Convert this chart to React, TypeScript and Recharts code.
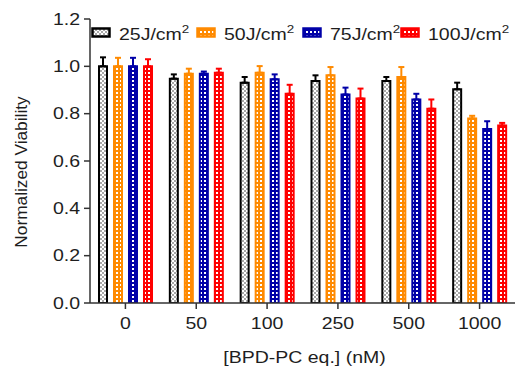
import React from 'react';
import { BarChart, Bar, XAxis, YAxis, ErrorBar, Legend } from 'recharts';

const categories = ['0', '50', '100', '250', '500', '1000'];
const seriesNames = ['25J/cm', '50J/cm', '75J/cm', '100J/cm'];
const v25 = [1.0, 0.948, 0.931, 0.938, 0.938, 0.903];
const v50 = [1.0, 0.969, 0.973, 0.962, 0.955, 0.78];
const v75 = [1.0, 0.969, 0.945, 0.881, 0.86, 0.735];
const v100 = [1.0, 0.973, 0.884, 0.864, 0.821, 0.75];
const e25 = [0.038, 0.018, 0.024, 0.024, 0.017, 0.028];
const e50 = [0.036, 0.021, 0.028, 0.035, 0.042, 0.011];
const e75 = [0.036, 0.009, 0.021, 0.029, 0.024, 0.033];
const e100 = [0.03, 0.017, 0.038, 0.042, 0.039, 0.011];
const yTicks = [0, 0.2, 0.4, 0.6, 0.8, 1.0, 1.2];

const colors = ['#000000', '#ff8a00', '#0000a8', '#ff0000'];
const patternBase = ['#a8a8a8', '#ff8a00', '#0000a8', '#ff0000'];
const patIds = ['pat0', 'pat1', 'pat2', 'pat3'];
const vals = [v25, v50, v75, v100];
const errs = [e25, e50, e75, e100];
const keys = ['s0', 's1', 's2', 's3'];

const data = categories.map((c, i) => {
  const row: any = { name: c };
  keys.forEach((k, s) => {
    row[k] = vals[s][i];
    row[k + 'e'] = [0, errs[s][i]];
  });
  return row;
});

const FONT = '"Liberation Sans", Arial, sans-serif';
const SX = 1.22;
const TXT = '#1e1e1e';

const YTick = (props: any) => {
  const { x, y, payload } = props;
  return (
    <g transform={`translate(${x},${y})`}>
      <text transform={`scale(${SX},1)`} textAnchor="end" dy="0.36em" fontSize={16} fontFamily={FONT} fill={TXT}>
        {Number(payload.value).toFixed(1)}
      </text>
    </g>
  );
};

const XTick = (props: any) => {
  const { x, y, payload } = props;
  return (
    <g transform={`translate(${x},${y})`}>
      <text transform={`scale(${SX},1)`} textAnchor="middle" dy={18} fontSize={16} fontFamily={FONT} fill={TXT}>
        {payload.value}
      </text>
    </g>
  );
};

const XLabel = (props: any) => {
  const { viewBox } = props;
  const cx = viewBox.x + viewBox.width / 2 + 2;
  return (
    <g transform={`translate(${cx},${viewBox.y + 60})`}>
      <text transform={`scale(${SX},1)`} textAnchor="middle" fontSize={16} fontFamily={FONT} fill={TXT}>
        [BPD-PC eq.] (nM)
      </text>
    </g>
  );
};

const YLabel = (props: any) => {
  const { viewBox } = props;
  const cy = viewBox.y + viewBox.height / 2 + 11;
  return (
    <g transform={`translate(27,${cy}) rotate(-90)`}>
      <text transform="scale(1.08,1)" textAnchor="middle" fontSize={16} fontFamily={FONT} fill={TXT}>
        Normalized Viability
      </text>
    </g>
  );
};

const itemWidths = [105, 106, 98, 118];

const LegendContent = () => (
  <div style={{ display: 'flex' }}>
    {seriesNames.map((n, i) => (
      <svg key={n} width={itemWidths[i]} height={22} style={{ display: 'block' }}>
        <rect x={1.5} y={5.5} width={17} height={8} fill={`url(#${patIds[i]})`} stroke={colors[i]} strokeWidth={2.5} />
        <g transform="translate(28,17)">
          <text transform={`scale(${SX},1)`} fontSize={16} fontFamily={FONT} fill={TXT}>
            {n}
            <tspan fontSize={11} dy={-7}>2</tspan>
          </text>
        </g>
      </svg>
    ))}
  </div>
);

export default function App() {
  return (
    <div style={{ position: 'absolute', left: 0, top: 0, background: '#fff' }}>
      <BarChart
        width={519}
        height={370}
        data={data}
        margin={{ top: 19, right: 4, bottom: 0, left: 0 }}
        barCategoryGap={8}
        barGap={7}
        barSize={8}
      >
        <defs>
          {patIds.map((id, i) => (
            <pattern key={id} id={id} patternUnits="userSpaceOnUse" width={4} height={4}>
              <rect x={0} y={0} width={4} height={4} fill={patternBase[i]} />
              <rect x={0} y={0} width={2} height={2} fill="#ffffff" />
              <rect x={2} y={2} width={2} height={2} fill={i === 0 ? '#ffffff' : patternBase[i]} />
            </pattern>
          ))}
        </defs>
        <XAxis
          dataKey="name"
          height={67}
          tickSize={6}
          tick={<XTick />}
          axisLine={{ stroke: '#333', strokeWidth: 1.5 }}
          tickLine={{ stroke: '#333', strokeWidth: 1.5 }}
          label={<XLabel />}
        />
        <XAxis xAxisId="top" orientation="top" dataKey="name" height={0} tick={false} tickLine={false} axisLine={{ stroke: '#444', strokeWidth: 1.5 }} />
        <YAxis
          domain={[0, 1.2]}
          ticks={yTicks}
          width={90}
          tickSize={6}
          tickMargin={4}
          tick={<YTick />}
          axisLine={{ stroke: '#333', strokeWidth: 1.5 }}
          tickLine={{ stroke: '#333', strokeWidth: 1.5 }}
          label={<YLabel />}
          allowDataOverflow
        />
        <YAxis yAxisId="right" orientation="right" width={0} domain={[0, 1.2]} tick={false} tickLine={false} axisLine={{ stroke: '#444', strokeWidth: 1.5 }} />
        <Legend
          layout="horizontal"
          verticalAlign="middle"
          align="center"
          content={<LegendContent />}
          wrapperStyle={{ position: 'absolute', left: 91, top: 23, width: 430, height: 22 }}
        />
        {keys.map((k, i) => (
          <Bar
            key={k}
            dataKey={k}
            name={seriesNames[i]}
            fill={`url(#${patIds[i]})`}
            stroke={colors[i]}
            strokeWidth={2}
            isAnimationActive={false}
          >
            <ErrorBar dataKey={k + 'e'} width={3} stroke={colors[i]} strokeWidth={2} direction="y" />
          </Bar>
        ))}
      </BarChart>
    </div>
  );
}
